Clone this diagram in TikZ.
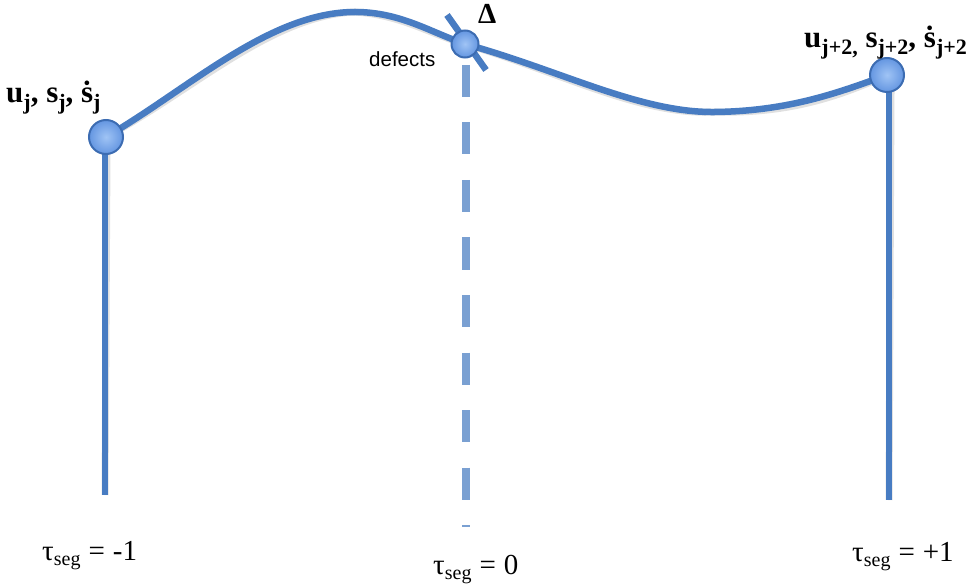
\documentclass[tikz,border=0pt]{standalone}
\usepackage{fontspec}
\setmainfont{Liberation Serif}
\newfontfamily\sansf{Liberation Sans}
\usetikzlibrary{calc}
\definecolor{curveblue}{RGB}{72,124,194}
\definecolor{ballin}{RGB}{160,196,245}
\definecolor{ballout}{RGB}{100,150,225}
\definecolor{balledge}{RGB}{60,108,178}
\definecolor{dashblue}{RGB}{122,160,210}
\newcommand{\sbj}[1]{\raisebox{-0.45ex}{\fontsize{22}{22}\selectfont #1}}
\newcommand{\sbt}[1]{\raisebox{-0.4ex}{\fontsize{20}{20}\selectfont #1}}
\tikzset{
  bluecurve/.style={draw=curveblue, line width=6.5pt},
  shadowline/.style={draw=black, opacity=0.12, line width=7pt},
  ballnode/.style={circle, draw=balledge, line width=2pt, inner sep=0pt,
     minimum size=34pt, inner color=ballin, outer color=ballout},
  smallball/.style={ballnode, minimum size=27pt},
  dashline/.style={draw=dashblue, line width=8pt, dash pattern=on 32pt off 25.5pt},
  boldlabel/.style={font=\fontsize{31}{31}\selectfont\bfseries, inner sep=0pt, anchor=base west},
  taulabel/.style={font=\fontsize{29}{29}\selectfont, inner sep=0pt, anchor=base west},
}
\begin{document}
\begin{tikzpicture}[x=1pt,y=-1pt]
\useasboundingbox (0,0) rectangle (968,585);
% coordinates
\coordinate (Lb) at (105,495);
\coordinate (Rb) at (889,500);
\coordinate (dtop) at (466,65);
\coordinate (dbot) at (466,527);
\coordinate (x1) at (447,15);
\coordinate (x2) at (486,70);
\coordinate (pk) at (355,12);
\coordinate (mn) at (715,112);
% positions of balls
\coordinate (Lc) at (106,137);
\coordinate (Mc) at (465,44);
\coordinate (Rc) at (887,75);
% shadows
\begin{scope}[shift={(2,3)}]
\draw[shadowline] (Lc) .. controls (190,88) and (270,12) .. (pk) .. controls (400,12) and (430,32) .. (Mc)
   .. controls (560,70) and (640,113) .. (mn) .. controls (790,111) and (840,92) .. (Rc);
\draw[shadowline] (105,150) -- (Lb);
\draw[shadowline] (889,88) -- (Rb);
\draw[shadowline, line width=6pt] (x1) -- (x2);
\end{scope}
% dashed line
\draw[dashline] (dtop) -- (dbot);
% main curve
\draw[bluecurve] (Lc) .. controls (190,88) and (270,12) .. (pk) .. controls (400,12) and (430,32) .. (Mc)
   .. controls (560,70) and (640,113) .. (mn) .. controls (790,111) and (840,92) .. (Rc);
% verticals
\draw[bluecurve] (105,150) -- (Lb);
\draw[bluecurve] (889,88) -- (Rb);
% cross mark
\draw[bluecurve] (x1) -- (x2);
% balls
\node[ballnode] (L) at (Lc) {};
\node[smallball] (M) at (Mc) {};
\node[ballnode] (R) at (Rc) {};
% labels
\node[boldlabel] (labL) at (6,103) {u\sbj{j}, s\sbj{j}, \.{s}\sbj{j}};
\node[boldlabel] (labR) at (804,48) {u\sbj{j+2,} s\sbj{j+2}, \.{s}\sbj{j+2}};
\node[font=\fontsize{29}{29}\selectfont\bfseries, inner sep=0pt, anchor=base west] (delta) at (478,24) {Δ};
\node[font=\sansf\fontsize{20.5}{20.5}\selectfont, inner sep=0pt, anchor=base west] (def) at (369,67) {defects};
\node[taulabel] (t1) at (42,560) {τ\sbt{seg}\hspace{8pt}=\hspace{8pt}-1};
\node[taulabel] (t0) at (433,574) {τ\sbt{seg}\hspace{8pt}=\hspace{8pt}0};
\node[taulabel] (t2) at (852,561) {τ\sbt{seg}\hspace{8pt}=\hspace{8pt}+1};
\end{tikzpicture}
\end{document}
